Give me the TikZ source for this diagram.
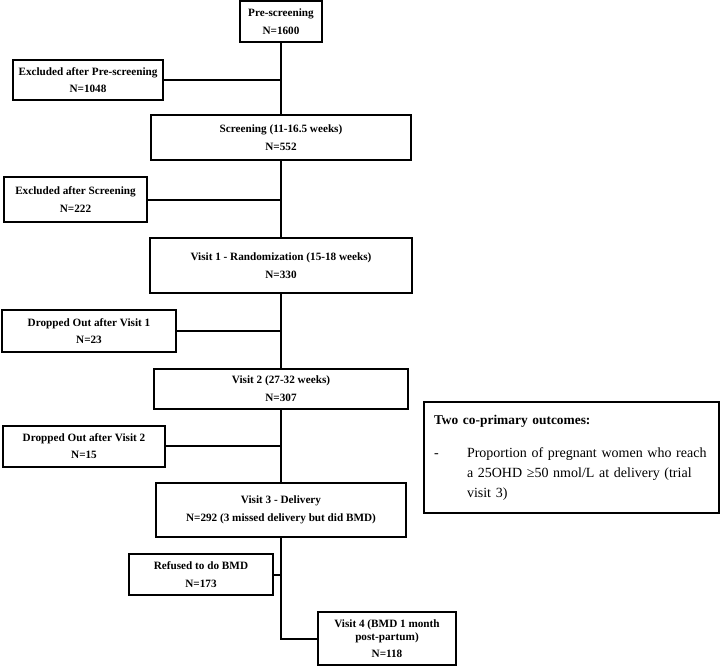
\documentclass[tikz,border=0pt]{standalone}
\usepackage{fontspec}
\setmainfont{Liberation Serif}
\usetikzlibrary{calc}

\begin{document}
\begin{tikzpicture}[x=1pt,y=-1pt,
    flowbox/.style={draw,line width=2pt,inner sep=0pt,align=center,font=\fontsize{11.2}{13}\selectfont\bfseries},
    outbox/.style={draw,line width=2pt,inner xsep=10pt,inner ysep=0pt,align=left,text width=275pt,minimum height=111pt,font=\fontsize{14}{20}\selectfont},
    flowline/.style={line width=2pt}]
        \useasboundingbox (0,0) rectangle (720,666);
        % main column
        \node[flowbox,minimum width=82pt,minimum height=41pt] (pre) at (281,21.5) {Pre-screening\\[4.5pt]N=1600};
        \node[flowbox,minimum width=260pt,minimum height=45pt] (scr) at (281,137.5) {Screening (11-16.5 weeks)\\[4.5pt]N=552};
        \node[flowbox,minimum width=262pt,minimum height=55pt] (v1) at (281,265.5) {Visit 1 - Randomization (15-18 weeks)\\[4.5pt]N=330};
        \node[flowbox,minimum width=254pt,minimum height=40pt] (v2) at (281,388.5) {Visit 2 (27-32 weeks)\\[4.5pt]N=307};
        \node[flowbox,minimum width=250pt,minimum height=54pt] (v3) at (281,510) {Visit 3 - Delivery\\[4.5pt]N=292 (3 missed delivery but did BMD)};
        \node[flowbox,minimum width=138pt,minimum height=53pt] (v4) at (387,638.5) {Visit 4 (BMD 1 month\\post-partum)\\[4pt]N=118};
        % side boxes
        \node[flowbox,minimum width=150pt,minimum height=40pt] (expre) at (88,80) {Excluded after Pre-screening\\[4.5pt]N=1048};
        \node[flowbox,minimum width=143pt,minimum height=45pt] (exscr) at (75.5,199.5) {Excluded after Screening\\[4.5pt]N=222};
        \node[flowbox,minimum width=174pt,minimum height=42pt] (drop1) at (89,331) {Dropped Out after Visit 1\\[4.5pt]N=23};
        \node[flowbox,minimum width=162pt,minimum height=41pt] (drop2) at (84,446) {Dropped Out after Visit 2\\[4.5pt]N=15};
        \node[flowbox,minimum width=144pt,minimum height=41pt] (bmd) at (201,574.5) {Refused to do BMD\\[4.5pt]N=173};
        % outcomes
        \node[outbox] (out) at (571.5,457.5) {{\fontsize{13.4}{20}\selectfont\bfseries Two co-primary outcomes:}\\[13pt]\makebox[33pt][l]{-}\parbox[t]{242pt}{\raggedright Proportion of pregnant women who reach a 25OHD ≥50 nmol/L at delivery (trial visit 3)}};
        % connectors
        \draw[flowline] (pre) -- (scr);
        \draw[flowline] (scr) -- (v1);
        \draw[flowline] (v1) -- (v2);
        \draw[flowline] (v2) -- (v3);
        \draw[flowline] (v3.south) |- (v4.west);
        \draw[flowline] (expre.east) -- (expre.east -| pre.south);
        \draw[flowline] (exscr.east) -- (exscr.east -| scr.south);
        \draw[flowline] (drop1.east) -- (drop1.east -| v1.south);
        \draw[flowline] (drop2.east) -- (drop2.east -| v2.south);
        \draw[flowline] (bmd.east) -- (bmd.east -| v3.south);
      \end{tikzpicture}
\end{document}
